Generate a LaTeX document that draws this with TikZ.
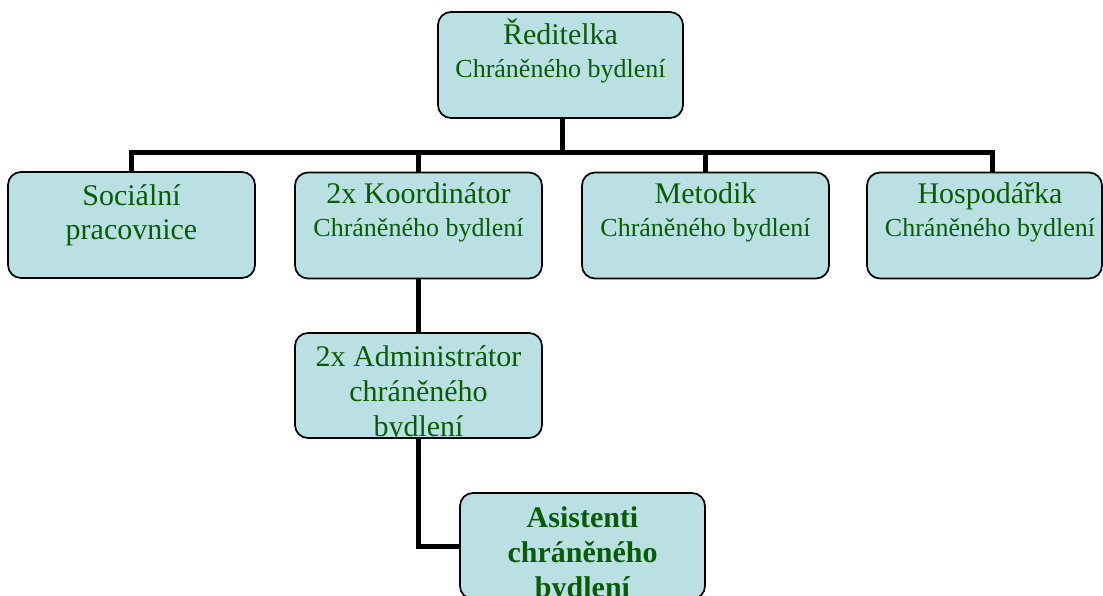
\documentclass[tikz,border=0pt]{standalone}
\usepackage{fontspec}
\setmainfont{Liberation Serif}
\usetikzlibrary{calc}
\definecolor{boxfill}{RGB}{187,224,227}
\definecolor{txtgreen}{RGB}{8,92,8}
\tikzset{
  orgbox/.style={draw=black, line width=1.7pt, fill=boxfill, rounded corners=13pt,
    inner sep=0pt, minimum width=247pt, minimum height=106pt},
  bigtxt/.style={text=txtgreen, font=\fontsize{30}{34}\selectfont, anchor=base, inner sep=0pt},
  smalltxt/.style={text=txtgreen, font=\fontsize{26}{30}\selectfont, anchor=base, inner sep=0pt},
  boldtxt/.style={text=txtgreen, font=\fontsize{30}{34}\selectfont\bfseries, anchor=base, inner sep=0pt},
  conn/.style={draw=black, line width=5pt}
}
\begin{document}
\begin{tikzpicture}[x=1pt,y=-1pt]
\useasboundingbox (0,0) rectangle (1103,596);
\coordinate (bus) at (560,153);
% connectors
\coordinate (dirout) at (562,118);
\coordinate (hosin) at (992,172);
\coordinate (socin) at (131.5,172);
\draw[conn] (dirout) -- (dirout |- bus);
\draw[conn] (socin) -- (socin |- bus) -- (hosin |- bus) -- (hosin);
\coordinate (kooin) at (418.5,172);
\coordinate (metin) at (705.5,172);
\draw[conn] (kooin) -- (kooin |- bus);
\draw[conn] (metin) -- (metin |- bus);
% boxes
\node[orgbox, minimum width=245pt] (dir) at (560.5,65) {};
\node[orgbox] (soc) at (131.5,225) {};
\node[orgbox] (koo) at (418.5,225.5) {};
\node[orgbox] (met) at (705.5,225.5) {};
\node[orgbox, minimum width=235pt] (hos) at (984.5,225.5) {};
\node[orgbox, minimum height=105pt] (adm) at (418.5,385.5) {};
\node[orgbox, minimum width=245pt] (asi) at (582.5,546) {};
\draw[conn] (koo.south) -- (adm.north);
\draw[conn] (adm.south) |- (asi.west);
% texts
\node[bigtxt] (dirt1) at ($(dir.north)+(0,33)$) {Ředitelka};
\node[smalltxt] (dirt2) at ($(dir.north)+(0,66)$) {Chráněného bydlení};
\node[bigtxt] (soct1) at ($(soc.north)+(0,34)$) {Sociální};
\node[bigtxt] (soct2) at ($(soc.north)+(0,68)$) {pracovnice};
\node[bigtxt] (koot1) at ($(koo.north)+(0,32)$) {2x Koordinátor};
\node[smalltxt] (koot2) at ($(koo.north)+(0,65)$) {Chráněného bydlení};
\node[bigtxt] (mett1) at ($(met.north)+(0,32)$) {Metodik};
\node[smalltxt] (mett2) at ($(met.north)+(0,65)$) {Chráněného bydlení};
\node[bigtxt] (host1) at ($(hos.north)+(5.5,32)$) {Hospodářka};
\node[smalltxt] (host2) at ($(hos.north)+(5.5,65)$) {Chráněného bydlení};
\begin{scope}
\clip[rounded corners=13pt] (adm.south west) rectangle (adm.north east);
\node[bigtxt] (admt1) at ($(adm.north)+(0,34)$) {2x Administrátor};
\node[bigtxt] (admt2) at ($(adm.north)+(0,69)$) {chráněného};
\node[bigtxt] (admt3) at ($(adm.north)+(0,104)$) {bydlení};
\end{scope}
\node[boldtxt] (asit1) at ($(asi.north)+(0,35)$) {Asistenti};
\node[boldtxt] (asit2) at ($(asi.north)+(0,70)$) {chráněného};
\node[boldtxt] (asit3) at ($(asi.north)+(0,105)$) {bydlení};
\end{tikzpicture}
\end{document}
